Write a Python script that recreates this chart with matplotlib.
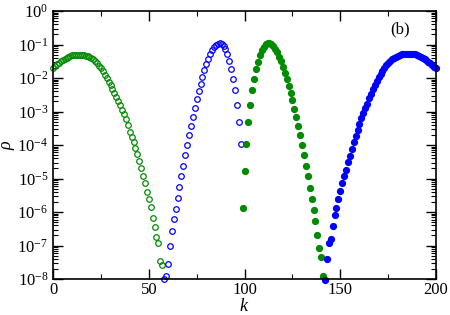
import matplotlib
matplotlib.use("Agg")
import matplotlib.pyplot as plt
import numpy as np
from matplotlib.ticker import LogLocator, MultipleLocator, NullFormatter

plt.rcParams['font.family'] = 'Liberation Serif'
plt.rcParams['mathtext.fontset'] = 'custom'
plt.rcParams['mathtext.rm'] = 'Liberation Serif'
plt.rcParams['mathtext.it'] = 'Liberation Serif:italic'

# log10(rho), one value per k
k_green_open = np.arange(0, 58)
log_green_open = [-1.70, -1.64, -1.59, -1.54, -1.50, -1.46, -1.42, -1.39, -1.36, -1.34,
                  -1.32, -1.31, -1.30, -1.30, -1.30, -1.31, -1.32, -1.33, -1.35, -1.37,
                  -1.40, -1.44, -1.49, -1.56, -1.63, -1.71, -1.80, -1.90, -2.00, -2.11,
                  -2.22, -2.33, -2.45, -2.56, -2.69, -2.81, -2.94, -3.08, -3.22, -3.41,
                  -3.60, -3.75, -3.91, -4.09, -4.27, -4.48, -4.69, -4.93, -5.13, -5.40,
                  -5.61, -5.85, -6.18, -6.45, -6.75, -6.93, -7.46, -7.58]

k_blue_open = np.arange(58, 99)
log_blue_open = [-8.00, -7.91, -7.55, -7.01, -6.57, -6.21, -5.91, -5.58, -5.25, -4.93,
                 -4.63, -4.30, -4.00, -3.70, -3.42, -3.15, -2.89, -2.64, -2.40, -2.17,
                 -1.96, -1.76, -1.58, -1.42, -1.28, -1.16, -1.07, -1.01, -0.97, -0.96,
                 -0.99, -1.04, -1.14, -1.28, -1.49, -1.74, -2.02, -2.37, -2.79, -3.30,
                 -3.97]

k_green_full = np.arange(99, 142)
log_green_full = [-5.87, -4.78, -3.97, -3.30, -2.79, -2.36, -2.02, -1.74, -1.51, -1.32,
                  -1.17, -1.06, -0.99, -0.96, -0.96, -0.99, -1.05, -1.13, -1.23, -1.36,
                  -1.50, -1.66, -1.84, -2.03, -2.23, -2.44, -2.67, -2.91, -3.16, -3.43,
                  -3.70, -4.00, -4.30, -4.62, -4.93, -5.27, -5.61, -5.95, -6.28, -6.67,
                  -7.08, -7.33, -7.91]

k_blue_full = np.arange(142, 201)
log_blue_full = [-8.03, -7.41, -6.93, -6.79, -6.42, -6.09, -5.89, -5.62, -5.37, -5.14,
                 -4.93, -4.73, -4.52, -4.33, -4.12, -3.90, -3.73, -3.55, -3.37, -3.20,
                 -3.05, -2.90, -2.76, -2.61, -2.48, -2.34, -2.21, -2.09, -1.98, -1.88,
                 -1.79, -1.70, -1.62, -1.55, -1.49, -1.44, -1.40, -1.36, -1.33, -1.31,
                 -1.29, -1.28, -1.27, -1.27, -1.27, -1.27, -1.28, -1.29, -1.31, -1.33,
                 -1.36, -1.39, -1.43, -1.47, -1.51, -1.56, -1.61, -1.66, -1.71]

y_decades = [-8, -7, -6, -5, -4, -3, -2, -1, 0]

green = '#008b00'
blue = '#0000ff'

fig = plt.figure(figsize=(4.5, 3.15), dpi=100)
ax = fig.add_axes([0.118, 0.114, 0.851, 0.851])

ax.plot(k_green_open, 10.0 ** np.array(log_green_open), 'o', ms=4, mfc='none',
        mec=green, mew=0.9, clip_on=False)
ax.plot(k_blue_open, 10.0 ** np.array(log_blue_open), 'o', ms=4, mfc='none',
        mec=blue, mew=0.9, clip_on=False)
ax.plot(k_green_full, 10.0 ** np.array(log_green_full), 'o', ms=4.2, color=green,
        mec=green, clip_on=False)
ax.plot(k_blue_full, 10.0 ** np.array(log_blue_full), 'o', ms=4.2, color=blue,
        mec=blue, clip_on=False)

ax.set_yscale('log')
ax.set_xlim(0, 200)
ax.set_ylim(1e-8, 1)

ax.xaxis.set_major_locator(MultipleLocator(50))
ax.xaxis.set_minor_locator(MultipleLocator(25))
ax.set_yticks([10.0 ** e for e in y_decades])
ax.yaxis.set_minor_locator(LogLocator(base=10, subs=np.arange(2, 10), numticks=20))
ax.yaxis.set_minor_formatter(NullFormatter())

ax.tick_params(which='both', direction='in', top=True, right=True, labelsize=12)
ax.tick_params(which='major', length=7, width=1)
ax.tick_params(which='minor', length=3.5, width=0.8)
ax.tick_params(axis='x', pad=2)
for s in ax.spines.values():
    s.set_linewidth(1.2)

ax.set_xlabel(r'$k$', fontsize=13, labelpad=0)
ax.set_ylabel(r'$\rho$', fontsize=13, labelpad=0)
ax.text(0.905, 0.93, '(b)', transform=ax.transAxes, fontsize=12, ha='center', va='center')

fig.savefig('out.png', dpi=100)
